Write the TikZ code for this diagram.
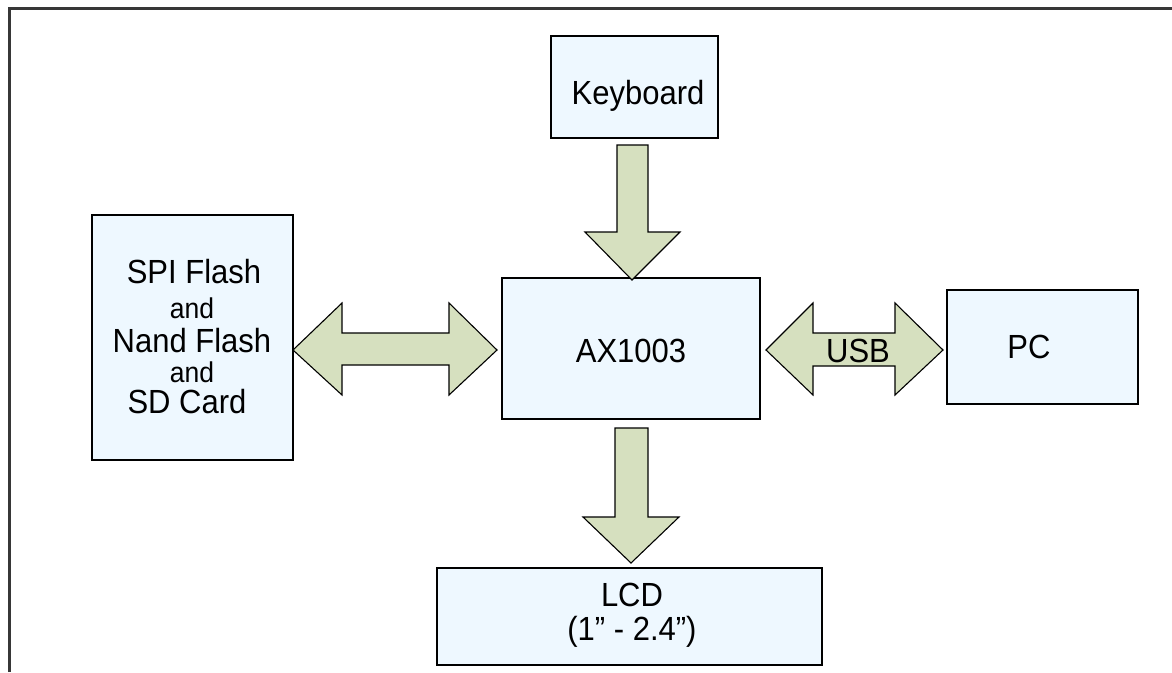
\documentclass[tikz,border=0pt]{standalone}
\usepackage{fontspec}
\setmainfont{Liberation Sans}
\definecolor{boxfill}{RGB}{238,248,255}
\definecolor{arrowfill}{RGB}{214,224,191}
\definecolor{framecol}{RGB}{55,55,55}
\newcommand{\tallt}[1]{\scalebox{1}[1.08]{#1}}
\begin{document}
\begin{tikzpicture}[x=1pt,y=-1pt,
  blockbox/.style={draw=black, fill=boxfill, line width=1.2pt, inner sep=0pt},
  blockarrow/.style={draw=black, fill=arrowfill, line width=1.1pt, line join=miter},
  lab/.style={anchor=base, inner sep=0pt, font=\fontsize{31}{31}\selectfont},
  smalllab/.style={anchor=base, inner sep=0pt, font=\fontsize{26.5}{26.5}\selectfont}]
\useasboundingbox (0,0) rectangle (1172,672);
% frame
\draw[framecol, line width=3pt] (9,672) -- (9,8) -- (1172,8);
% boxes
\node[blockbox, minimum width=167pt, minimum height=102pt] (kb) at (634.5,87) {};
\node[blockbox, minimum width=258pt, minimum height=141pt] (ax) at (631,348.5) {};
\node[blockbox, minimum width=201pt, minimum height=245pt] (spi) at (192.5,337.5) {};
\node[blockbox, minimum width=191pt, minimum height=114pt] (pc) at (1042.5,347) {};
\node[blockbox, minimum width=385pt, minimum height=97pt] (lcd) at (629.5,616.5) {};
% arrows
\draw[blockarrow] (617,145) -- (648,145) -- (648,232) -- (680,232) -- (632,280) -- (585,232) -- (617,232) -- cycle;
\draw[blockarrow] (615,428) -- (648,428) -- (648,517) -- (679,517) -- (631,563) -- (583,517) -- (615,517) -- cycle;
\draw[blockarrow] (293,350) -- (342,303) -- (342,333) -- (449,333) -- (449,303) -- (497,350) -- (449,395) -- (449,365) -- (342,365) -- (342,395) -- cycle;
\draw[blockarrow] (766,350) -- (813,303) -- (813,333) -- (895,333) -- (895,303) -- (943,350) -- (895,395) -- (895,366) -- (813,366) -- (813,395) -- cycle;
% labels
\node[lab] (kbt) at (638,104) {\tallt{Keyboard}};
\node[lab] (axt) at (631,362) {\tallt{AX1003}};
\node[lab] (pct) at (1029,358) {\tallt{PC}};
\node[lab] (usbt) at (858,362) {\tallt{USB}};
\node[lab] (spi1) at (194,283) {\tallt{SPI Flash}};
\node[smalllab] (spi2) at (192,318) {\tallt{and}};
\node[lab] (spi3) at (192,352) {\tallt{Nand Flash}};
\node[smalllab] (spi4) at (192,382) {\tallt{and}};
\node[lab] (spi5) at (187,413) {\tallt{SD Card}};
\node[lab] (lcd1) at (632,606) {\tallt{LCD}};
\node[lab] (lcd2) at (632,640) {\tallt{(1” - 2.4”)}};
\end{tikzpicture}
\end{document}
